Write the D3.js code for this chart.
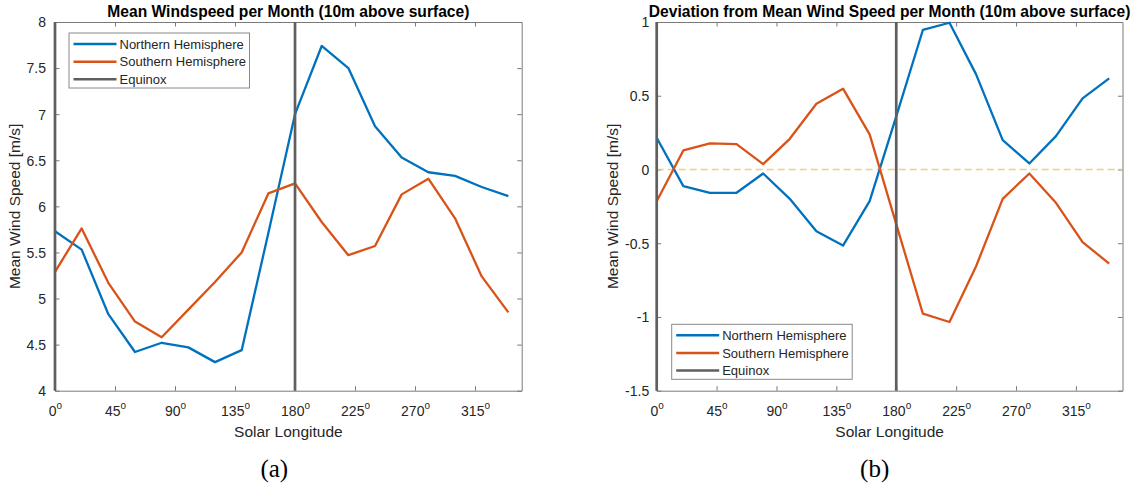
<!DOCTYPE html>
<html>
<head>
<meta charset="utf-8">
<script src="https://cdn.jsdelivr.net/npm/d3@7"></script>
<style>
	body { margin: 0; background: #fff; }
	text { font-family: "Liberation Sans", Arial, sans-serif; }
</style>
</head>
<body>
<div id="chart"></div>
<script>

// solar longitude of each monthly value (degrees)
var solarLongitude = [0, 20, 40, 60, 80, 100, 120, 140, 160, 180, 200, 220, 240, 260, 280, 300, 320, 340];

// (a) mean wind speed, m/s
var northMean = [5.73, 5.53, 4.83, 4.42, 4.52, 4.47, 4.31, 4.44, 5.71, 7.00, 7.74, 7.50, 6.87, 6.53, 6.37, 6.33, 6.21, 6.11];
var southMean = [5.29, 5.76, 5.17, 4.75, 4.58, 4.88, 5.18, 5.50, 6.14, 6.25, 5.83, 5.47, 5.57, 6.13, 6.30, 5.87, 5.24, 4.85];

// (b) deviation from mean wind speed, m/s
var northDev = [0.215, -0.113, -0.158, -0.158, -0.027, -0.199, -0.419, -0.516, -0.215, 0.36, 0.946, 0.995, 0.645, 0.199, 0.041, 0.226, 0.482, 0.618];
var southDev = [-0.215, 0.129, 0.177, 0.172, 0.036, 0.208, 0.446, 0.548, 0.238, -0.37, -0.978, -1.034, -0.656, -0.199, -0.027, -0.226, -0.493, -0.638];

var equinoxes = [0, 180];
var xTicks = [0, 45, 90, 135, 180, 225, 270, 315];
var yTicksMean = [4, 4.5, 5, 5.5, 6, 6.5, 7, 7.5, 8];
var yTicksDev = [-1.5, -1, -0.5, 0, 0.5, 1];
var seriesNames = ["Northern Hemisphere", "Southern Hemisphere", "Equinox"];

var blue = "#0072BD", orange = "#D95319", grey = "#5f5f5f";

var svg = d3.select("#chart")
	.append("svg")
		.attr("width", 1139)
		.attr("height", 488);

svg.append("rect").attr("width", 1139).attr("height", 488).attr("fill", "#fff");

function drawPanel(opt) {
	var x = d3.scaleLinear().domain([0, 350]).range([opt.left, opt.right]);
	var y = d3.scaleLinear().domain(opt.yDomain).range([opt.bottom, opt.top]);
	var g = svg.append("g");
	var tick = 4.5;

	// box axes, ticks pointing inward
	var bottomAxis = g.append("g")
		.attr("transform", "translate(0," + opt.bottom + ")")
		.call(d3.axisBottom(x).tickValues(xTicks).tickSizeInner(-tick).tickSizeOuter(0));
	g.append("g")
		.attr("transform", "translate(0," + opt.top + ")")
		.call(d3.axisTop(x).tickValues(xTicks).tickSizeInner(-tick).tickSizeOuter(0).tickFormat(""));
	var leftAxis = g.append("g")
		.attr("transform", "translate(" + opt.left + ",0)")
		.call(d3.axisLeft(y).tickValues(opt.yTicks).tickSizeInner(-tick).tickSizeOuter(0).tickFormat(d => String(d)));
	g.append("g")
		.attr("transform", "translate(" + opt.right + ",0)")
		.call(d3.axisRight(y).tickValues(opt.yTicks).tickSizeInner(-tick).tickSizeOuter(0).tickFormat(""));

	g.selectAll(".domain").attr("stroke", "#7a7a7a").attr("stroke-width", 1);
	g.selectAll(".tick line").attr("stroke", "#7a7a7a").attr("stroke-width", 1);

	leftAxis.selectAll(".tick text")
		.attr("x", -opt.yPad)
		.attr("dy", "0.35em")
		.attr("font-size", 14)
		.attr("fill", "#262626");

	bottomAxis.selectAll(".tick text")
		.attr("y", 25.8)
		.attr("dy", null)
		.attr("font-size", 14)
		.attr("fill", "#262626")
		.each(function(d) {
			var t = d3.select(this);
			t.text(null);
			t.append("tspan").text(d);
			t.append("tspan").attr("font-size", 10).attr("dy", -7).text("o");
		});

	g.selectAll(".tick text").attr("font-family", null);

	// zero reference
	if (opt.zeroLine) {
		g.append("line")
			.attr("x1", opt.left).attr("x2", opt.right)
			.attr("y1", y(0)).attr("y2", y(0))
			.attr("stroke", "#f0c35f")
			.attr("stroke-opacity", 0.8)
			.attr("stroke-width", 1.3)
			.attr("stroke-dasharray", "7,4");
	}

	var line = d3.line()
		.x((d, i) => x(solarLongitude[i]))
		.y(d => y(d));

	[[opt.north, blue], [opt.south, orange]].forEach(s => {
		g.append("path")
			.attr("d", line(s[0]))
			.attr("fill", "none")
			.attr("stroke", s[1])
			.attr("stroke-width", 2.3)
			.attr("stroke-linejoin", "round");
	});

	g.selectAll(".equinox")
		.data(equinoxes)
		.enter()
			.append("line")
			.attr("x1", d => x(d)).attr("x2", d => x(d))
			.attr("y1", opt.top).attr("y2", opt.bottom)
			.attr("stroke", grey)
			.attr("stroke-width", 2.7);

	// legend
	var lg = g.append("g").attr("transform", "translate(" + opt.legend[0] + "," + opt.legend[1] + ")");
	lg.append("rect")
		.attr("width", 180.5).attr("height", 55)
		.attr("fill", "#fff")
		.attr("stroke", "#8a8a8a")
		.attr("stroke-width", 1);
	var rows = [11, 28.7, 46.3];
	seriesNames.forEach((name, i) => {
		lg.append("line")
			.attr("x1", 4.5).attr("x2", 47.5)
			.attr("y1", rows[i]).attr("y2", rows[i])
			.attr("stroke", [blue, orange, grey][i])
			.attr("stroke-width", 2.5);
		lg.append("text")
			.attr("x", 50.5).attr("y", rows[i])
			.attr("dy", "0.35em")
			.attr("font-size", 13)
			.attr("fill", "#262626")
			.text(name);
	});

	var mid = (opt.left + opt.right) / 2;
	g.append("text")
		.attr("x", mid).attr("y", 16.5)
		.attr("text-anchor", "middle")
		.attr("font-size", 15.6)
		.attr("font-weight", "bold")
		.attr("fill", "#000")
		.text(opt.title);

	g.append("text")
		.attr("x", mid).attr("y", 436.5)
		.attr("text-anchor", "middle")
		.attr("font-size", 15.5)
		.attr("fill", "#262626")
		.text("Solar Longitude");

	g.append("text")
		.attr("transform", "translate(" + opt.yLabelX + "," + ((opt.top + opt.bottom) / 2) + ") rotate(-90)")
		.attr("text-anchor", "middle")
		.attr("font-size", 15.5)
		.attr("fill", "#262626")
		.text("Mean Wind Speed [m/s]");

	svg.append("text")
		.attr("x", opt.caption).attr("y", 476.5)
		.attr("text-anchor", "middle")
		.style("font-family", "'Liberation Serif', 'DejaVu Serif', serif")
		.attr("font-size", 25)
		.attr("fill", "#000")
		.text(opt.captionText);
}

drawPanel({
	left: 55, right: 521.7, top: 22, bottom: 390.7,
	yDomain: [4, 8], yTicks: yTicksMean, yPad: 9,
	north: northMean, south: southMean,
	legend: [69, 33],
	title: "Mean Windspeed per Month (10m above surface)",
	yLabelX: 20,
	caption: 274.3, captionText: "(a)"
});

drawPanel({
	left: 656.7, right: 1122.5, top: 22, bottom: 390.7,
	yDomain: [-1.5, 1], yTicks: yTicksDev, yPad: 7.5, zeroLine: true,
	north: northDev, south: southDev,
	legend: [671.7, 324.3],
	title: "Deviation from Mean Wind Speed per Month (10m above surface)",
	yLabelX: 618,
	caption: 874.7, captionText: "(b)"
});

</script>
</body>
</html>
